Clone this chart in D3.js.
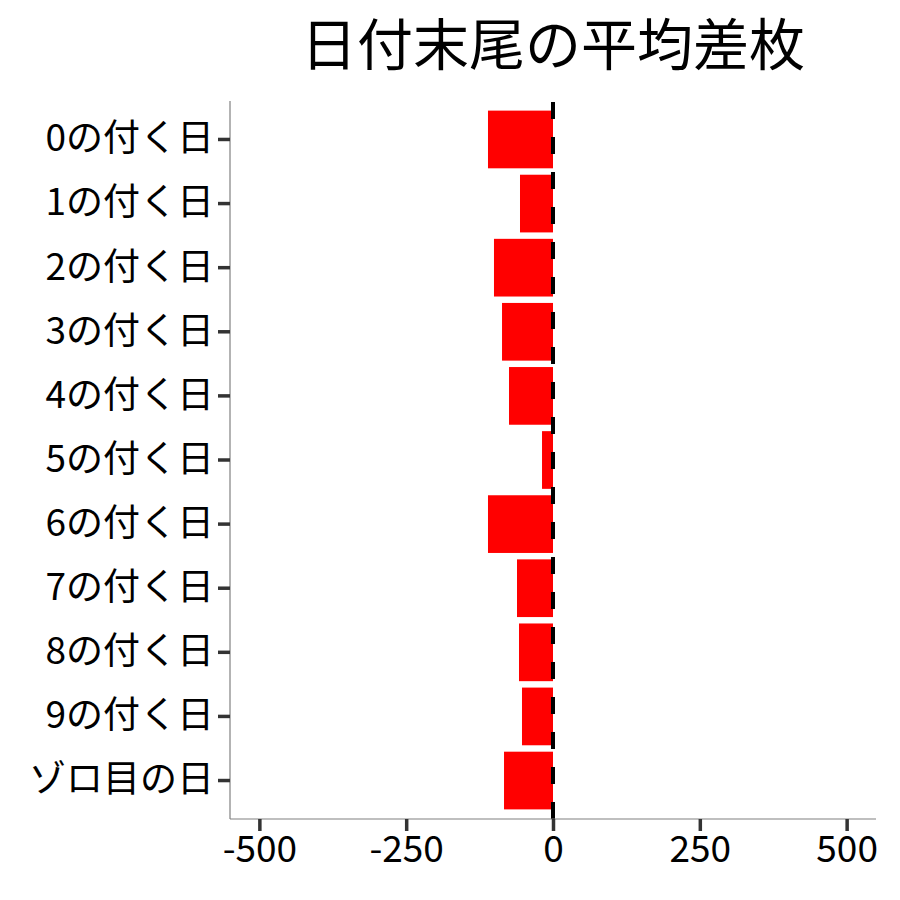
<!DOCTYPE html>
<html><head><meta charset="utf-8">
<script src="https://cdn.jsdelivr.net/npm/d3@7"></script>
<style>body{margin:0;background:#fff;} svg{display:block;}</style>
</head><body>
<script>
const categories = ["0の付く日","1の付く日","2の付く日","3の付く日","4の付く日","5の付く日","6の付く日","7の付く日","8の付く日","9の付く日","ゾロ目の日"];
const values = [-110.7, -56.2, -100.5, -86.8, -74.9, -18.7, -110.7, -61.3, -57.9, -52.8, -83.4];
const xTicks = [-500, -250, 0, 250, 500];
const xTickLabels = ["-500", "-250", "0", "250", "500"];
const xDomain = [-550, 550];
const chartTitle = "日付末尾の平均差枚";

(function(){
const W = 900, H = 900;
const font = "'Noto Sans CJK JP', 'Noto Sans', sans-serif";
const pL = 230, pR = 876, pT = 101, pB = 819;

const svg = d3.select("body").append("svg").attr("width", W).attr("height", H);

const x = d3.scaleLinear().domain(xDomain).range([pL, pR]);
const y = d3.scaleBand().domain(categories).range([pT, pB]).paddingInner(0.1).paddingOuter(0.15);

// bars
svg.append("g").selectAll("rect").data(categories).join("rect")
  .attr("x", (d,i) => x(Math.min(0, values[i])))
  .attr("width", (d,i) => Math.abs(x(values[i]) - x(0)))
  .attr("y", d => y(d))
  .attr("height", y.bandwidth())
  .attr("fill", "#ff0000");

// dashed zero line, drawn bottom to top
svg.append("line")
  .attr("x1", x(0)).attr("x2", x(0))
  .attr("y1", pB).attr("y2", pT)
  .attr("stroke", "#000").attr("stroke-width", 4)
  .attr("stroke-dasharray", "17,18");

// axes
const xAxis = svg.append("g").attr("transform", `translate(0,${pB})`)
  .call(d3.axisBottom(x).tickValues(xTicks).tickSize(12).tickPadding(5)
    .tickFormat((d,i) => xTickLabels[i]));
const yAxis = svg.append("g").attr("transform", `translate(${pL},0)`)
  .call(d3.axisLeft(y).tickSize(12).tickPadding(4));

[xAxis, yAxis].forEach(g => {
  g.select(".domain").attr("stroke", "#808080").attr("stroke-width", 1.2);
  g.selectAll(".tick line").attr("stroke", "#333333").attr("stroke-width", 3.5);
  g.selectAll(".tick text").attr("fill", "#000").style("font-family", font).style("font-size", "37px");
});
xAxis.select(".domain").attr("d", `M${pL},0H${pR}`);
yAxis.select(".domain").attr("d", `M0,${pT}V${pB}`);

// title
svg.append("text")
  .attr("x", (pL + pR) / 2).attr("y", 65)
  .attr("text-anchor", "middle")
  .style("font-family", font).style("font-size", "56px")
  .attr("fill", "#000")
  .text(chartTitle);
})();
</script>
</body></html>
